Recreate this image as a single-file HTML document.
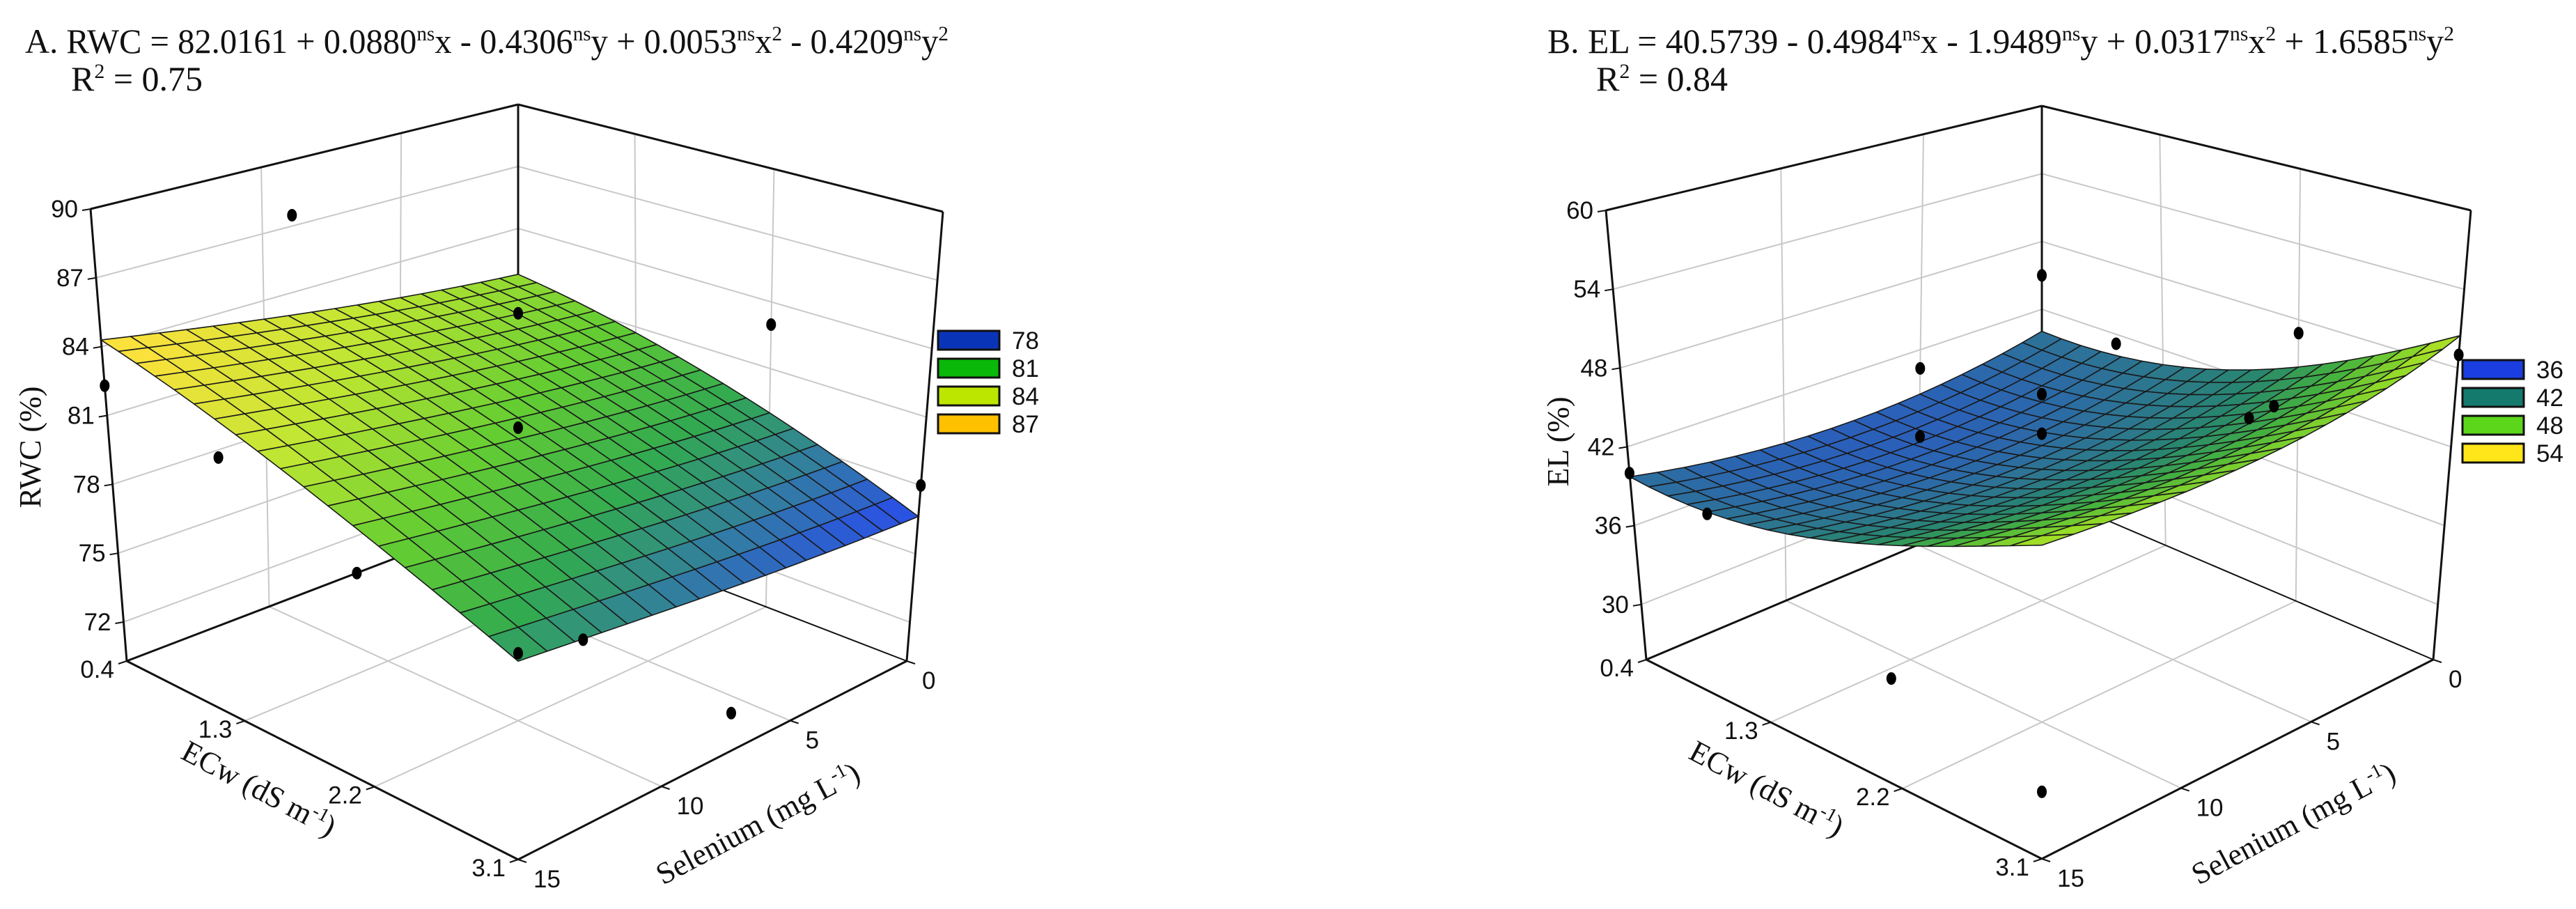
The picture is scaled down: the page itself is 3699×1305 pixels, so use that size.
<!DOCTYPE html>
<html><head><meta charset="utf-8">
<style>
html,body{margin:0;padding:0;background:#fff;}
svg{display:block;}
</style></head>
<body>
<svg id="chart" xmlns="http://www.w3.org/2000/svg" width="3699" height="1305" viewBox="0 0 3699 1305">
<rect width="3699" height="1305" fill="#fff"/>
<g id="panelA"></g>
<g id="panelB"></g>
</svg>
<script>
// ---- Data: panel A (RWC) ----
const coefA = [82.0161, 0.0880, -0.4306, 0.0053, -0.4209]; // x = Se, y = ECw
const zTicksA = [72, 75, 78, 81, 84, 87, 90];
const legendA = [78, 81, 84, 87];
const legendColorsA = ["#0a34b8", "#0ab80a", "#bce600", "#ffc000"];
const ptsEcA = [0.4, 0.4, 1.3, 2.2, 1.75, 1.75, 3.1, 2.2, 3.1, 3.1, 2.6];
const ptsSeA = [9, 15, 15, 15, 7.5, 7.5, 0, 0, 15, 7.5, 10];
const ptsValA = [87.5, 82.3, 81.6, 79.5, 85.5, 80.5, 78, 83, 79.5, 72, 75];
// ---- Data: panel B (EL) ----
const coefB = [40.5739, -0.4984, -1.9489, 0.0317, 1.6585];
const zTicksB = [30, 36, 42, 48, 54, 60];
const legendB = [36, 42, 48, 54];
const legendColorsB = ["#1a3ee0", "#157a6e", "#5cd61a", "#ffe61a"];
const ptsEcB = [0.4, 1.0, 0.4, 0.4, 1.3, 2.2, 1.75, 1.75, 2.4, 3.1, 2.6, 3.1, 2.2, 0.9];
const ptsSeB = [15, 15, 5, 0, 2, 0, 7.5, 7.5, 2.5, 0, 5, 15, 15, 7.5];
const ptsValB = [40, 39.8, 40.5, 45, 44, 47, 46, 43, 44, 49, 46, 31, 34, 39];
const ecTicks = [0.4, 1.3, 2.2, 3.1];
const seTicks = [0, 5, 10, 15];

const NS = "http://www.w3.org/2000/svg";
function mk(tag, attrs, parent) {
  const e = document.createElementNS(NS, tag);
  for (const k in attrs) e.setAttribute(k, attrs[k]);
  parent.appendChild(e);
  return e;
}
function homog(q) {
  const [x0,y0]=q[0],[x1,y1]=q[1],[x2,y2]=q[2],[x3,y3]=q[3];
  const dx1=x1-x2, dx2=x3-x2, dx3=x0-x1+x2-x3, dy1=y1-y2, dy2=y3-y2, dy3=y0-y1+y2-y3;
  const den=dx1*dy2-dx2*dy1;
  const g=(dx3*dy2-dx2*dy3)/den, h=(dx1*dy3-dx3*dy1)/den;
  const a=x1-x0+g*x1, b=x3-x0+h*x3, c=x0, d=y1-y0+g*y1, e=y3-y0+h*y3, f=y0;
  return (s,t)=>{const w=g*s+h*t+1; return [(a*s+b*t+c)/w,(d*s+e*t+f)/w];};
}
function lerpColor(stops, v) {
  if (v <= stops[0][0]) return stops[0][1];
  for (let i=1;i<stops.length;i++){
    if (v <= stops[i][0]) {
      const t=(v-stops[i-1][0])/(stops[i][0]-stops[i-1][0]);
      const a=stops[i-1][1], b=stops[i][1];
      return a.map((c,j)=>Math.round(c+(b[j]-c)*t));
    }
  }
  return stops[stops.length-1][1];
}

function drawPanel(cfg) {
  const g = cfg.g;
  const Hf = homog(cfg.floor), Ht = homog(cfg.top);
  const P = (ec, se, z) => {
    const u=(ec-0.4)/2.7, v=se/15, w=(z-cfg.zmin)/(cfg.zmax-cfg.zmin);
    const a=Hf(u,v), b=Ht(u,v);
    return [a[0]+(b[0]-a[0])*w, a[1]+(b[1]-a[1])*w];
  };
  const line = (p, q, stroke, sw, name) => {
    const l = mk("line", {x1:p[0].toFixed(1), y1:p[1].toFixed(1), x2:q[0].toFixed(1), y2:q[1].toFixed(1), stroke:stroke, "stroke-width":sw}, g);
    
    
    return l;
  };
  const zmin=cfg.zmin, zmax=cfg.zmax;
  const gc="#c8c8c8";
  cfg.zTicks.forEach(z=>{
    line(P(0.4,0,z), P(0.4,15,z), gc, 2, 'left-wall-gridline');
    line(P(0.4,0,z), P(3.1,0,z), gc, 2, 'right-wall-gridline');
  });
  [5,10].forEach(se=>{
    line(P(0.4,se,zmin), P(0.4,se,zmax), gc, 2, 'left-wall-vertical-gridline');
    line(P(0.4,se,zmin), P(3.1,se,zmin), gc, 2, 'floor-gridline-se');
  });
  [1.3,2.2].forEach(ec=>{
    line(P(ec,0,zmin), P(ec,0,zmax), gc, 2, 'right-wall-vertical-gridline');
    line(P(ec,0,zmin), P(ec,15,zmin), gc, 2, 'floor-gridline-ecw');
  });
  const k="#111";
  line(P(0.4,15,zmin), P(0.4,15,zmax), k, 3, 'z-axis-line');
  line(P(0.4,0,zmin), P(0.4,0,zmax), k, 3, 'back-edge');
  line(P(3.1,0,zmin), P(3.1,0,zmax), k, 3, 'right-edge');
  line(P(0.4,0,zmax), P(0.4,15,zmax), k, 3, 'top-left-edge');
  line(P(0.4,0,zmax), P(3.1,0,zmax), k, 3, 'top-right-edge');
  line(P(0.4,0,zmin), P(0.4,15,zmin), k, 3, 'floor-left-edge');
  line(P(0.4,0,zmin), P(3.1,0,zmin), k, 2, 'floor-back-edge');
  line(P(0.4,15,zmin), P(3.1,15,zmin), k, 3, 'ecw-axis-line');
  line(P(3.1,15,zmin), P(3.1,0,zmin), k, 3, 'selenium-axis-line');

  const c = cfg.coef;
  const f = (ec, se) => c[0]+c[1]*se+c[2]*ec+c[3]*se*se+c[4]*ec*ec;
  const N = 18, cells=[];
  for (let i=0;i<N;i++) for (let j=0;j<N;j++) cells.push([i,j]);
  cells.sort((a,b)=>(a[0]+a[1])-(b[0]+b[1]));
  const sg = mk("g", {}, g);
  
  
  cells.forEach(([i,j])=>{
    const e0=0.4+2.7*i/N, e1=0.4+2.7*(i+1)/N, s0=15*j/N, s1=15*(j+1)/N;
    const corners=[[e0,s0],[e1,s0],[e1,s1],[e0,s1]];
    const pts=corners.map(([e,s])=>P(e,s,f(e,s)));
    const avg=corners.reduce((a,[e,s])=>a+f(e,s),0)/4;
    const col=lerpColor(cfg.stops, avg);
    const poly = mk("polygon", {points: pts.map(p=>p[0].toFixed(1)+","+p[1].toFixed(1)).join(" "),
      fill:`rgb(${col[0]},${col[1]},${col[2]})`, stroke:"#1a1a1a", "stroke-width":1.6, "stroke-linejoin":"round"}, sg);
    
    
  });

  cfg.pe.forEach((ec, i)=>{
    const p = P(ec, cfg.ps[i], cfg.pv[i]);
    const d = mk("ellipse", {cx:p[0].toFixed(1), cy:p[1].toFixed(1), rx:7, ry:9, fill:"#000"}, g);
    
    
  });

  cfg.zTicks.forEach(z=>{
    const p = P(0.4,15,z);
    line([p[0]-12,p[1]+2], p, k, 2, 'z-tick');
    const t = mk("text", {x:(p[0]-18).toFixed(1), y:(p[1]+12).toFixed(1), "text-anchor":"end", "font-size":35, "font-family":"Liberation Sans, Arial, sans-serif", fill:"#111"}, g);
    t.textContent = z;
    
    
  });
  ecTicks.forEach(ec=>{
    const p = P(ec,15,zmin);
    line([p[0]-12,p[1]+4], p, k, 2, 'ecw-tick');
    const t = mk("text", {x:(p[0]-18).toFixed(1), y:(p[1]+24).toFixed(1), "text-anchor":"end", "font-size":35, "font-family":"Liberation Sans, Arial, sans-serif", fill:"#111"}, g);
    t.textContent = ec.toFixed(1);
    
    
  });
  seTicks.forEach(se=>{
    const p = P(3.1,se,zmin);
    line(p, [p[0]+12,p[1]+4], k, 2, 'selenium-tick');
    const t = mk("text", {x:(p[0]+22).toFixed(1), y:(p[1]+40).toFixed(1), "text-anchor":"start", "font-size":35, "font-family":"Liberation Sans, Arial, sans-serif", fill:"#111"}, g);
    t.textContent = se;
    
    
  });

  const zt = mk("text", {transform:`translate(${cfg.zTitle[0]},${cfg.zTitle[1]}) rotate(-90)`, "text-anchor":"middle", "font-size":44, "font-family":"Liberation Serif, Times New Roman, serif", fill:"#111"}, g);
  zt.textContent = cfg.zLabel;
  
  
  const et = mk("text", {transform:`translate(${cfg.ecTitle[0]},${cfg.ecTitle[1]}) rotate(28)`, "text-anchor":"middle", "font-size":44, "font-family":"Liberation Serif, Times New Roman, serif", fill:"#111"}, g);
  et.innerHTML = 'ECw (dS m<tspan dy="-16" font-size="28">-1</tspan><tspan dy="16">)</tspan>';
  
  
  const st = mk("text", {transform:`translate(${cfg.seTitle[0]},${cfg.seTitle[1]}) rotate(-28)`, "text-anchor":"middle", "font-size":44, "font-family":"Liberation Serif, Times New Roman, serif", fill:"#111"}, g);
  st.innerHTML = 'Selenium (mg L<tspan dy="-16" font-size="28">-1</tspan><tspan dy="16">)</tspan>';
  
  

  cfg.legend.forEach((v,i)=>{
    const y = cfg.legPos[1] + i*40;
    const r = mk("rect", {x:cfg.legPos[0], y:y, width:88, height:27, fill:cfg.legendColors[i], stroke:"#111", "stroke-width":3}, g);
    
    
    const t = mk("text", {x:cfg.legPos[0]+106, y:y+26, "font-size":35, "font-family":"Liberation Sans, Arial, sans-serif", fill:"#111"}, g);
    t.textContent = v;
    
    
  });

  const tt = mk("text", {x:cfg.titlePos[0], y:cfg.titlePos[1], "font-size":50, "font-family":"Liberation Serif, Times New Roman, serif", fill:"#111", textLength:cfg.titleLen, lengthAdjust:"spacingAndGlyphs"}, g);
  tt.innerHTML = cfg.title;
  
  
  const rt = mk("text", {x:cfg.r2Pos[0], y:cfg.r2Pos[1], "font-size":50, "font-family":"Liberation Serif, Times New Roman, serif", fill:"#111"}, g);
  rt.innerHTML = 'R<tspan dy="-18" font-size="30">2</tspan><tspan dy="18"> = ' + cfg.r2 + '</tspan>';
  
  
}

const sup = s => `<tspan dy="-18" font-size="30">${s}</tspan><tspan dy="18">`;
drawPanel({
  g: document.getElementById("panelA"),
  floor: [[744,734],[1302,949],[744,1234],[182,949]],
  top: [[744,150],[1354,304],[744,600],[130,300]],
  zmin: 70.3, zmax: 90, zTicks: zTicksA, coef: coefA,
  stops: [[76.5,[40,70,245]],[78,[50,120,170]],[79.5,[50,170,80]],[81,[100,205,50]],[82.5,[190,230,50]],[84,[250,225,60]]],
  pe: ptsEcA, ps: ptsSeA, pv: ptsValA,
  zLabel: "RWC (%)", zTitle: [58,642], ecTitle: [365,1145], seTitle: [1095,1195],
  legend: legendA, legendColors: legendColorsA, legPos: [1347,475],
  title: 'A. RWC = 82.0161 + 0.0880' + sup('ns') + 'x - 0.4306</tspan>' + sup('ns') + 'y + 0.0053</tspan>' + sup('ns') + 'x</tspan>' + sup('2') + ' - 0.4209</tspan>' + sup('ns') + 'y</tspan>' + sup('2') + '</tspan>',
  titleLen: 1326, titlePos: [36,76], r2Pos: [102,130], r2: "0.75"
});
drawPanel({
  g: document.getElementById("panelB"),
  floor: [[2932,707],[3494,947],[2932,1233],[2364,947]],
  top: [[2932,152],[3548,302],[2932,600],[2306,302]],
  zmin: 25.8, zmax: 60, zTicks: zTicksB, coef: coefB,
  stops: [[36,[40,75,225]],[40,[45,115,150]],[43,[40,135,110]],[46,[70,180,60]],[49,[150,220,40]],[53,[255,230,30]]],
  pe: ptsEcB, ps: ptsSeB, pv: ptsValB,
  zLabel: "EL (%)", zTitle: [2252,634], ecTitle: [2530,1145], seTitle: [3300,1195],
  legend: legendB, legendColors: legendColorsB, legPos: [3536,517],
  title: 'B. EL = 40.5739 - 0.4984' + sup('ns') + 'x - 1.9489</tspan>' + sup('ns') + 'y + 0.0317</tspan>' + sup('ns') + 'x</tspan>' + sup('2') + ' + 1.6585</tspan>' + sup('ns') + 'y</tspan>' + sup('2') + '</tspan>',
  titleLen: 1302, titlePos: [2222,76], r2Pos: [2292,130], r2: "0.84"
});
</script>
</body></html>
